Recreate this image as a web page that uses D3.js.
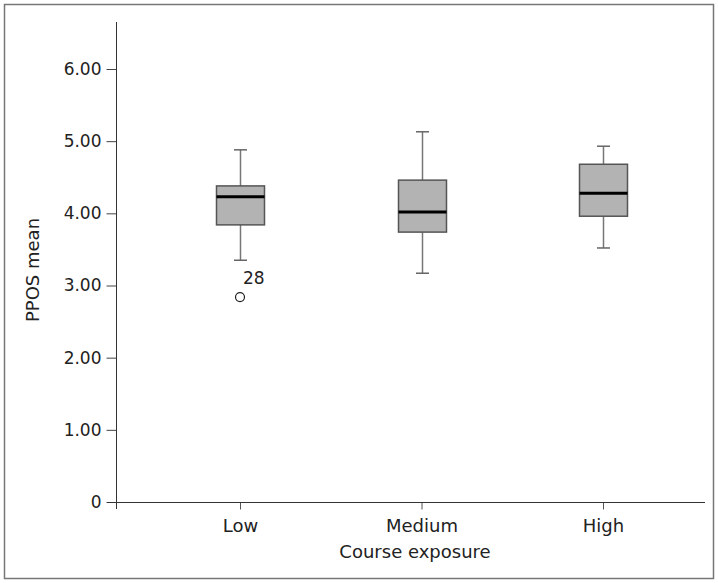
<!DOCTYPE html>
<html><head><meta charset="utf-8">
<script src="https://cdn.jsdelivr.net/npm/d3@7"></script>
<style>body{margin:0;background:#fff}svg{display:block}text{font-family:"DejaVu Sans",sans-serif}</style>
</head><body><svg id="c" width="718" height="583"></svg>
<script>
const categories = ["Low", "Medium", "High"];
const whiskerLow = [3.35, 3.17, 3.52];
const q1 = [3.84, 3.74, 3.96];
const median = [4.23, 4.02, 4.28];
const q3 = [4.38, 4.46, 4.68];
const whiskerHigh = [4.88, 5.13, 4.93];
const outliers = [{cat: "Low", value: 2.84, label: "28"}];
const yTicks = [0, 1, 2, 3, 4, 5, 6];

const svg = d3.select("#c");
svg.append("rect").attr("x", 4.5).attr("y", 4.5).attr("width", 709).attr("height", 574)
  .attr("fill", "none").attr("stroke", "#777").attr("stroke-width", 1.5);

const x = d3.scalePoint().domain(categories).range([240, 603]);
const y = d3.scaleLinear().domain([0, 6]).range([502, 69]);
const ax = 116.5;

// y axis
const yAxis = svg.append("g").attr("transform", `translate(${ax},0)`)
  .call(d3.axisLeft(y).tickValues(yTicks).tickSize(10).tickPadding(5)
    .tickFormat(d => d === 0 ? "0" : d3.format(".2f")(d)));
yAxis.select(".domain").remove();
yAxis.selectAll("line").attr("stroke", "#444");
yAxis.selectAll("text").attr("font-size", 17).attr("fill", "#222");
svg.append("line").attr("x1", ax).attr("x2", ax).attr("y1", 22).attr("y2", 509).attr("stroke", "#333");

// x axis
const xAxis = svg.append("g").attr("transform", `translate(0,${y(0) + 0.5})`)
  .call(d3.axisBottom(x).tickSize(7).tickPadding(10));
xAxis.select(".domain").remove();
xAxis.selectAll("line").attr("stroke", "#555");
xAxis.selectAll("text").attr("font-size", 18).attr("fill", "#222");
svg.append("line").attr("x1", 107).attr("x2", 705).attr("y1", y(0) + 0.5).attr("y2", y(0) + 0.5).attr("stroke", "#333");

// titles
svg.append("text").attr("x", 415).attr("y", 558).attr("text-anchor", "middle")
  .attr("font-size", 18).attr("fill", "#222").text("Course exposure");
svg.append("text").attr("transform", "translate(39,270) rotate(-90)").attr("text-anchor", "middle")
  .attr("font-size", 18).attr("fill", "#222").text("PPOS mean");

// boxes
const bw = 48, cap = 13;
const g = svg.append("g");
categories.forEach((c, i) => {
  const cx = Math.round(x(c)) + 0.5;
  g.append("line").attr("x1", cx).attr("x2", cx).attr("y1", y(whiskerHigh[i])).attr("y2", y(q3[i])).attr("stroke", "#777").attr("stroke-width", 1.5);
  g.append("line").attr("x1", cx).attr("x2", cx).attr("y1", y(q1[i])).attr("y2", y(whiskerLow[i])).attr("stroke", "#777").attr("stroke-width", 1.5);
  g.append("line").attr("x1", cx - cap / 2).attr("x2", cx + cap / 2).attr("y1", y(whiskerHigh[i])).attr("y2", y(whiskerHigh[i])).attr("stroke", "#666").attr("stroke-width", 1.5);
  g.append("line").attr("x1", cx - cap / 2).attr("x2", cx + cap / 2).attr("y1", y(whiskerLow[i])).attr("y2", y(whiskerLow[i])).attr("stroke", "#666").attr("stroke-width", 1.5);
  g.append("rect").attr("x", cx - bw / 2).attr("y", y(q3[i])).attr("width", bw).attr("height", y(q1[i]) - y(q3[i]))
    .attr("fill", "#b3b3b3").attr("stroke", "#555").attr("stroke-width", 1.5);
  g.append("line").attr("x1", cx - bw / 2).attr("x2", cx + bw / 2).attr("y1", y(median[i])).attr("y2", y(median[i])).attr("stroke", "#000").attr("stroke-width", 3);
});
outliers.forEach(o => {
  const cx = x(o.cat);
  g.append("circle").attr("cx", cx).attr("cy", y(o.value)).attr("r", 4.5).attr("fill", "none").attr("stroke", "#222").attr("stroke-width", 1.2);
  g.append("text").attr("x", cx + 3).attr("y", y(o.value) - 13).attr("font-size", 17).attr("fill", "#222").text(o.label);
});
</script></body></html>
